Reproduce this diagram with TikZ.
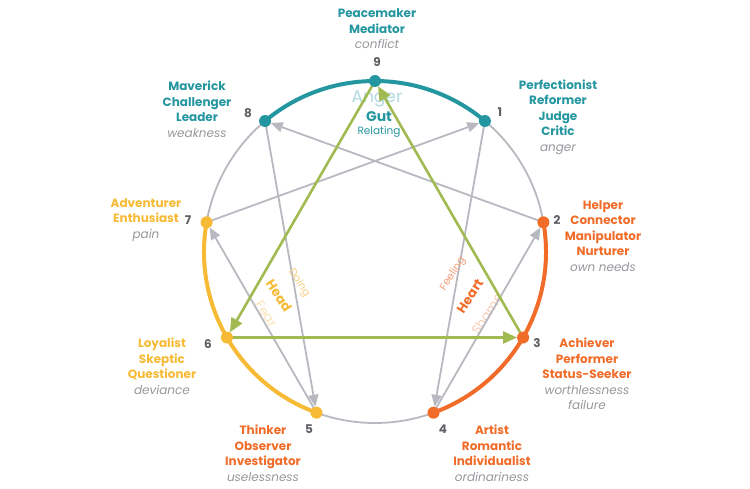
\documentclass[tikz,border=0pt]{standalone}
\usepackage{fontspec}
\setmainfont{Poppins}
\usetikzlibrary{calc,arrows.meta}
\definecolor{tealc}{RGB}{36,150,160}
\definecolor{orng}{RGB}{240,108,40}
\definecolor{yell}{RGB}{246,186,52}
\definecolor{lgray}{RGB}{184,184,192}
\definecolor{tgray}{RGB}{150,150,156}
\definecolor{ngray}{RGB}{95,95,100}
\definecolor{grn}{RGB}{162,186,82}
\definecolor{fteal}{RGB}{178,218,224}
\definecolor{fyell}{RGB}{250,226,180}
\definecolor{myell}{RGB}{247,205,130}
\definecolor{forng}{RGB}{250,205,182}
\definecolor{morng}{RGB}{244,158,118}
\newcommand\weakw[1]{{\mdseries\itshape\color{tgray}#1}}
\begin{document}
\begin{tikzpicture}[x=1pt,y=-1pt,
 lbl/.style={align=center,inner sep=0pt,font=\fontsize{12}{15.5}\selectfont\bfseries},
 num/.style={inner sep=0pt,text=ngray,font=\fontsize{12}{14}\selectfont\bfseries},
 dot/.style={circle,inner sep=0pt,minimum size=12pt},
 hex/.style={lgray,line width=1.8pt,-{Triangle[length=12pt,width=10pt]},shorten >=6pt},
 tri/.style={grn,line width=2.6pt,-{Triangle[length=14pt,width=12pt]},shorten >=6pt},
 arcline/.style={line width=4pt},
 faint/.style={inner sep=0pt,font=\fontsize{13}{14}\selectfont},
]
\useasboundingbox (0,0) rectangle (750,489);
\coordinate (C) at (375,252);
\def\R{171}
% faint emotion words
\node[faint,text=fteal,font=\fontsize{17}{18}\selectfont] (anger) at (377,99) {Anger};
\node[faint,text=fyell,rotate=-57] (fear) at (266,314) {Fear};
\node[faint,text=forng,rotate=57] (shame) at (487,314) {Shame};
% points
\foreach \n/\a in {9/-90,1/-50,2/-10,3/30,4/70,5/110,6/150,7/-170,8/-130}
  \coordinate (p\n) at ($(C)+(\a:\R)$);
% gray circle
\draw[lgray,line width=1.8pt] (C) circle[radius=\R];
% hexad arrows
\draw[hex] (p1) -- (p4);
\draw[hex] (p4) -- (p2);
\draw[hex] (p2) -- (p8);
\draw[hex] (p8) -- (p5);
\draw[hex] (p5) -- (p7);
\draw[hex] (p7) -- (p1);
% colored arcs
\draw[arcline,tealc] (p8) arc[start angle=-130,end angle=-50,radius=\R];
\draw[arcline,orng] (p2) arc[start angle=-10,end angle=70,radius=\R];
\draw[arcline,yell] (p5) arc[start angle=110,end angle=190,radius=\R];
% triangle
\draw[tri] (p9) -- (p6);
\draw[tri] (p6) -- (p3);
\draw[tri] (p3) -- (p9);
% dots
\foreach \n/\c in {9/tealc,1/tealc,8/tealc,2/orng,3/orng,4/orng,5/yell,6/yell,7/yell}
  \node[dot,fill=\c] (d\n) at (p\n) {};
% center texts
\node[inner sep=0pt,text=tealc,font=\fontsize{14}{16}\selectfont\bfseries] (gut) at (379,117) {Gut};
\node[inner sep=0pt,text=tealc,font=\fontsize{10.5}{12}\selectfont] (rel) at (379,132) {Relating};
\node[inner sep=0pt,text=yell,rotate=-57,font=\fontsize{13}{14}\selectfont\bfseries] (head) at (279,296) {Head};
\node[inner sep=0pt,text=myell,rotate=-57,font=\fontsize{10.5}{12}\selectfont] (doing) at (299,283) {Doing};
\node[inner sep=0pt,text=orng,rotate=57,font=\fontsize{13}{14}\selectfont\bfseries] (heart) at (470,296) {Heart};
\node[inner sep=0pt,text=morng,rotate=57,font=\fontsize{10.5}{12}\selectfont] (feel) at (453,274) {Feeling};
% numbers
\node[num] (n9) at (377,62) {9};
\node[num] (n8) at (248,113) {8};
\node[num] (n1) at (500,112) {1};
\node[num] (n2) at (557,220) {2};
\node[num] (n7) at (188,220) {7};
\node[num] (n6) at (208,344) {6};
\node[num] (n5) at (309,429) {5};
\node[num] (n4) at (443,429) {4};
\node[num] (n3) at (537,343) {3};
% labels
\node[lbl,text=tealc] (l9) at (377,29) {Peacemaker\\Mediator\\\weakw{conflict}};
\node[lbl,text=tealc] (l8) at (197,109) {Maverick\\Challenger\\Leader\\\weakw{weakness}};
\node[lbl,text=tealc] (l1) at (558,117) {Perfectionist\\Reformer\\Judge\\Critic\\\weakw{anger}};
\node[lbl,text=orng] (l2) at (603,236) {Helper\\Connector\\Manipulator\\Nurturer\\\weakw{own needs}};
\node[lbl,text=yell] (l7) at (146,220) {Adventurer\\Enthusiast\\\weakw{pain}};
\node[lbl,text=yell] (l6) at (162,366) {Loyalist\\Skeptic\\Questioner\\\weakw{deviance}};
\node[lbl,text=orng] (l5) at (263,453) {Thinker\\Observer\\Investigator\\\weakw{uselessness}};
\node[lbl,text=orng] (l4) at (492,453) {Artist\\Romantic\\Individualist\\\weakw{ordinariness}};
\node[lbl,text=orng] (l3) at (587,374) {Achiever\\Performer\\Status-Seeker\\\weakw{worthlessness}\\\weakw{failure}};
\end{tikzpicture}
\end{document}
